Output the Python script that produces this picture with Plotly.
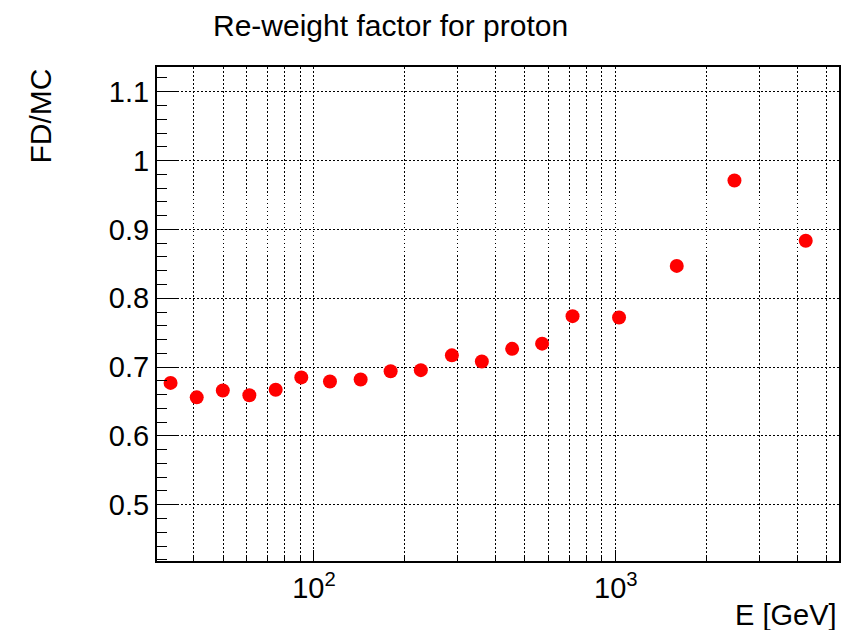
import plotly.graph_objects as go

# Re-weight factor (flight data / Monte Carlo) per energy bin
energy_gev = [33.5, 40.9, 49.9, 61.1, 74.7, 90.8, 113.0, 142.8, 179.5, 226.0,
              286.4, 359.9, 453.6, 570.0, 719.0, 1025.0, 1592.0, 2472.0, 4258.0]
fd_over_mc = [0.677, 0.656, 0.666, 0.659, 0.667, 0.685, 0.679, 0.682, 0.694, 0.6955,
              0.717, 0.708, 0.7265, 0.734, 0.774, 0.772, 0.847, 0.971, 0.8834]

x_major = [100, 1000]
x_major_text = ["10<sup>2</sup>", "10<sup>3</sup>"]
x_minor = [40, 50, 60, 70, 80, 90, 200, 300, 400, 500, 600, 700, 800, 900,
           2000, 3000, 4000, 5000]
y_major = [0.5, 0.6, 0.7, 0.8, 0.9, 1.0, 1.1]
y_major_text = ["0.5", "0.6", "0.7", "0.8", "0.9", "1", "1.1"]

W, H = 855, 630
L, R, T, B = 157, 16, 67, 69
FONT = "Liberation Sans, Arial, Helvetica, sans-serif"

fig = go.Figure()
fig.add_trace(go.Scatter(
    x=energy_gev, y=fd_over_mc, mode="markers",
    marker=dict(color="rgb(255,0,0)", size=14, line=dict(width=0)),
    showlegend=False, cliponaxis=False,
))

grid = dict(showgrid=True, gridcolor="black", griddash="1.5px,2.5px", gridwidth=1)

fig.update_xaxes(
    type="log", range=[1.4801, 3.7394],
    tickmode="array", tickvals=x_major, ticktext=x_major_text,
    ticks="inside", ticklen=11, tickwidth=1, tickcolor="black",
    showline=True, linecolor="black", linewidth=2, mirror=True,
    zeroline=False,
    tickfont=dict(family=FONT, size=29, color="black"),
    minor=dict(tickmode="array", tickvals=x_minor, ticks="inside", ticklen=6,
               tickcolor="black", tickwidth=1, **grid),
    **grid,
)
fig.update_yaxes(
    range=[0.4183, 1.1359],
    tickmode="array", tickvals=y_major, ticktext=y_major_text,
    ticks="inside", ticklen=20, tickwidth=1, tickcolor="black",
    showline=True, linecolor="black", linewidth=2, mirror=True,
    zeroline=False, ticklabelstandoff=0,
    tickfont=dict(family=FONT, size=29, color="black"),
    minor=dict(dtick=0.02, tick0=0.0, ticks="inside", ticklen=10,
               tickcolor="black", tickwidth=1, showgrid=False),
    **grid,
)

fig.update_layout(
    width=W, height=H,
    margin=dict(l=L, r=R, t=T, b=B),
    paper_bgcolor="white", plot_bgcolor="white",
    font=dict(family=FONT, color="black"),
    title=dict(text="Re-weight factor for proton", x=213 / W, xanchor="left",
               y=1 - 25 / H, yanchor="middle", xref="container", yref="container",
               font=dict(family=FONT, size=30, color="black")),
    annotations=[
        dict(text="FD/MC", textangle=-90, xref="paper", yref="paper",
             x=(40 - L) / (W - L - R), xanchor="center",
             y=1.0, yanchor="top", showarrow=False,
             font=dict(family=FONT, size=30, color="black")),
        dict(text="E [GeV]", xref="paper", yref="paper",
             x=1.0, xanchor="right", y=-(597 - (H - B)) / (H - T - B), yanchor="top",
             showarrow=False, font=dict(family=FONT, size=29, color="black")),
    ],
)

fig.write_html("out.html")
